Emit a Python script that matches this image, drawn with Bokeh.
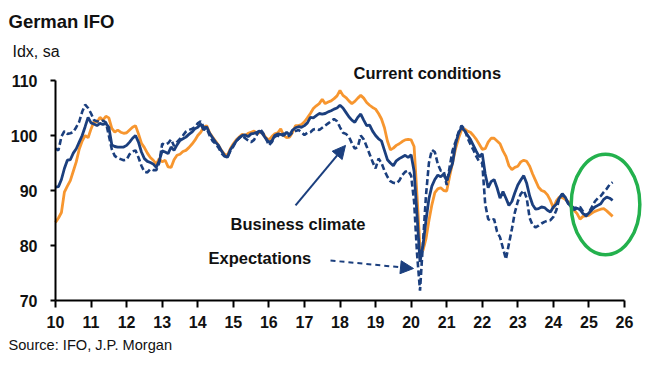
from bokeh.plotting import figure
from bokeh.models import Range1d, FixedTicker, Label, Arrow, NormalHead
from bokeh.embed import file_html
from bokeh.resources import INLINE

# ---- data (monthly, Jan 2010 .. Sep 2025), index level, sa ----
business_climate = [
    90.6, 90.7, 92.0, 94.0, 95.5, 95.6, 96.8, 97.6, 98.8, 100.0, 101.6, 103.3,   # 2010
    102.3, 102.1, 101.8, 102.2, 102.0, 102.2, 101.5, 98.3, 98.0, 97.9, 97.9, 97.9,  # 2011
    98.2, 98.8, 99.5, 100.0, 98.8, 97.0, 95.8, 95.3, 95.1, 94.8, 94.2, 95.4,       # 2012
    97.2, 97.0, 96.7, 97.9, 97.3, 98.3, 99.1, 99.4, 99.7, 100.2, 100.6, 101.2,     # 2013
    101.5, 102.1, 101.0, 101.6, 100.4, 99.6, 98.8, 98.2, 97.2, 96.4, 96.0, 97.4,   # 2014
    98.2, 99.0, 99.6, 100.0, 100.1, 99.8, 100.3, 100.4, 100.6, 100.8, 100.2, 99.4, # 2015
    98.8, 99.0, 100.0, 100.3, 100.2, 100.0, 100.6, 100.1, 101.0, 101.4, 101.6, 101.5,  # 2016
    101.8, 102.3, 103.3, 103.2, 103.6, 104.0, 103.9, 104.0, 104.3, 104.5, 104.8, 105.0,  # 2017
    105.5, 105.0, 104.2, 103.4, 102.8, 102.4, 103.3, 103.9, 102.8, 101.8, 101.9, 100.8,  # 2018
    100.0, 99.4, 99.0, 97.3, 95.6, 95.0, 94.5, 95.4, 95.8, 96.1, 96.4, 96.0,       # 2019
    96.5, 93.5, 85.5, 77.0, 80.0, 84.5, 88.5, 90.8, 92.0, 92.8, 92.5, 93.0,        # 2020
    91.8, 93.4, 95.0, 98.5, 100.4, 101.5, 100.9, 100.1, 99.3, 98.2, 97.1, 96.1,    # 2021
    96.7, 93.0, 90.5, 91.6, 92.0, 90.5, 88.6, 89.8, 88.6, 87.3, 88.0, 89.6,        # 2022
    91.0, 91.9, 92.7, 91.3, 89.0, 87.4, 86.6, 86.7, 87.0, 86.9, 86.4, 86.1,        # 2023
    87.0, 87.5, 88.6, 89.4, 88.8, 87.7, 87.0, 86.5, 86.8, 86.5, 85.8, 85.5,        # 2024
    85.9, 86.5, 87.0, 87.3, 87.6, 88.4, 88.8, 88.6, 88.2,                          # 2025
]

expectations = [
    97.6, 97.3, 99.8, 100.8, 100.3, 100.4, 100.6, 101.5, 102.5, 104.3, 105.6, 105.0,  # 2010
    104.0, 102.8, 102.6, 102.5, 102.7, 102.4, 100.0, 97.5, 96.3, 95.9, 95.7, 95.5,   # 2011
    95.6, 96.6, 97.1, 97.3, 96.0, 94.5, 93.4, 93.3, 93.9, 93.7, 93.7, 95.0,         # 2012
    98.5, 98.3, 98.6, 99.3, 98.1, 98.8, 99.4, 100.0, 100.7, 101.0, 101.2, 101.5,    # 2013
    102.2, 102.6, 101.5, 101.3, 100.0, 99.0, 98.5, 97.8, 96.8, 96.2, 96.0, 97.2,    # 2014
    98.0, 99.0, 99.5, 100.0, 99.5, 99.1, 98.8, 99.2, 100.2, 101.2, 100.5, 99.5,     # 2015
    98.2, 98.8, 99.8, 100.0, 99.7, 100.4, 99.8, 100.0, 100.6, 100.8, 101.0, 100.6,  # 2016
    100.1, 100.5, 100.6, 101.1, 101.2, 101.0, 101.4, 101.8, 102.2, 102.6, 103.0, 102.6,  # 2017
    101.5, 100.5, 100.3, 99.8, 98.6, 97.6, 97.9, 100.0, 99.3, 98.0, 96.6, 95.2,     # 2018
    94.0, 95.8, 95.0, 93.6, 92.5, 91.7, 91.4, 91.3, 91.8, 92.8, 93.4, 93.6,         # 2019
    92.7, 88.0, 78.5, 71.8, 80.5, 89.0, 95.0, 97.4, 97.0, 94.8, 93.6, 93.5,         # 2020
    91.0, 94.3, 97.3, 98.9, 100.6, 101.8, 101.2, 99.6, 98.4, 97.4, 96.2, 95.2,      # 2021
    95.0, 87.5, 84.8, 84.5, 84.8, 82.5, 81.5, 79.5, 77.5, 80.3, 83.0, 86.0,         # 2022
    88.0, 89.4, 90.0, 88.6, 85.0, 83.7, 83.3, 83.6, 84.0, 84.3, 84.5, 84.6,         # 2023
    85.2, 86.4, 88.6, 89.3, 88.6, 87.6, 87.2, 86.8, 86.9, 87.0, 86.2, 85.3,         # 2024
    86.0, 87.0, 88.0, 88.6, 89.0, 89.7, 90.3, 91.1, 91.5,                           # 2025
]

current_conditions = [
    84.2, 85.0, 86.0, 89.7, 90.8, 91.8, 93.5, 95.2, 97.5, 99.0, 100.0, 99.6,        # 2010
    101.2, 102.6, 102.4, 103.3, 102.8, 103.5, 103.2, 101.3, 100.6, 101.0, 100.6, 100.4,  # 2011
    100.5, 101.0, 101.5, 101.8, 100.3, 98.6, 97.8, 96.8, 96.0, 95.5, 94.8, 95.8,    # 2012
    95.2, 95.5, 94.3, 94.2, 95.6, 96.4, 96.6, 97.1, 97.3, 97.8, 98.4, 99.1,         # 2013
    100.0, 100.6, 101.5, 101.8, 100.5, 99.7, 99.0, 98.2, 97.3, 96.6, 96.4, 97.6,    # 2014
    98.5, 99.2, 99.7, 100.2, 100.0, 100.4, 100.6, 100.8, 100.3, 100.6, 100.4, 99.6, # 2015
    99.2, 99.8, 100.3, 100.5, 101.2, 100.0, 99.6, 99.7, 100.6, 101.8, 101.8, 102.0, # 2016
    102.5, 103.2, 104.0, 104.9, 105.4, 105.8, 106.6, 105.8, 106.1, 106.3, 106.7, 107.2,  # 2017
    108.2, 107.3, 106.9, 106.3, 105.8, 106.2, 106.8, 107.3, 106.8, 106.0, 105.5, 105.1,  # 2018
    104.8, 104.0, 103.0, 101.4, 99.0, 97.4, 97.7, 98.2, 98.5, 98.9, 99.2, 99.3,     # 2019
    99.2, 98.0, 89.0, 79.5, 79.1, 81.2, 84.5, 87.4, 89.6, 90.3, 90.5, 90.0,         # 2020
    89.9, 92.6, 95.1, 97.6, 99.5, 101.0, 101.2, 100.8, 100.6, 100.0, 99.3, 98.4,    # 2021
    97.5, 97.6, 98.8, 99.5, 99.5, 99.0, 98.5, 97.2, 96.2, 94.5, 93.8, 94.2,         # 2022
    94.4, 95.2, 95.5, 95.3, 94.4, 93.0, 91.8, 90.6, 90.0, 89.8, 89.2, 88.2,         # 2023
    86.8, 88.1, 88.8, 88.7, 88.4, 88.0, 87.4, 86.4, 85.8, 84.8, 85.3, 85.4,         # 2024
    85.5, 85.9, 86.2, 86.4, 86.6, 86.7, 86.3, 85.8, 85.3,                           # 2025
]

start_year = 10            # axis shows two-digit years
x_ticks = list(range(10, 27))
x_tick_labels = [str(t) for t in x_ticks]
y_ticks = [70, 80, 90, 100, 110]

months = [start_year + i / 12 for i in range(len(business_climate))]

NAVY = "#1B3F7E"
ORANGE = "#F7962F"
GREEN = "#23B14D"
FONT = "Liberation Sans"
TXT = "#111111"

# whole canvas is the frame; axes are pinned inside it
W, H = 652, 362
ppx = 569 / 16.0      # pixels per year
ppy = 220 / 40.0      # pixels per index point
x0 = 10 - 55 / ppx
x1 = x0 + W / ppx
y1 = 110 + 80 / ppy
y0 = y1 - H / ppy

p = figure(
    width=W, height=H,
    x_range=Range1d(x0, x1), y_range=Range1d(y0, y1),
    output_backend="svg", toolbar_location=None,
    min_border=0,
)
p.outline_line_color = None
p.grid.grid_line_color = None
p.background_fill_color = "white"
p.border_fill_color = "white"

p.line(months, current_conditions, line_color=ORANGE, line_width=2.8)
p.line(months, business_climate, line_color=NAVY, line_width=2.8)
p.line(months, expectations, line_color=NAVY, line_width=2.6, line_dash="6 3")

for ax in (p.xaxis[0], p.yaxis[0]):
    ax.axis_line_color = "black"
    ax.axis_line_width = 2
    ax.major_tick_line_color = "black"
    ax.major_tick_line_width = 2
    ax.major_tick_in = 0
    ax.minor_tick_line_color = None
    ax.major_label_text_font = FONT
    ax.major_label_text_font_style = "bold"
    ax.major_label_text_font_size = "16px"
    ax.major_label_text_color = TXT

p.xaxis.fixed_location = 70
p.xaxis.ticker = FixedTicker(ticks=x_ticks)
p.xaxis.major_label_overrides = {t: s for t, s in zip(x_ticks, x_tick_labels)}
p.xaxis.bounds = (10, 26)
p.xaxis.major_tick_out = 7
p.xaxis.major_label_standoff = 8

p.yaxis.fixed_location = 10
p.yaxis.ticker = FixedTicker(ticks=y_ticks)
p.yaxis.bounds = (70, 110)
p.yaxis.major_tick_out = 5
p.yaxis.major_label_standoff = 13

# green highlight ellipse around latest readings
p.ellipse(x=[25.466], y=[87.45], width=[1.93], height=[18.3],
          fill_color=None, line_color=GREEN, line_width=3.5)

# annotations
def lab(text, x, y, size, bold=True):
    p.add_layout(Label(x=x, y=y, text=text, text_font=FONT, text_font_size=size,
                       text_font_style="bold" if bold else "normal",
                       text_color=TXT, text_baseline="alphabetic", text_align="left"))

lab("German IFO", 8.678, 120.8, "18.5px")
lab("Idx, sa", 8.79, 115.3, "16px", bold=False)
lab("Current conditions", 18.38, 111.3, "16.5px")
lab("Business climate", 14.921, 84.0, "16.5px")
lab("Expectations", 14.302, 77.7, "16.5px")
lab("Source: IFO, J.P. Morgan", 8.678, 62.0, "14.6px", bold=False)

p.add_layout(Arrow(end=NormalHead(size=13, fill_color=NAVY, line_color=NAVY),
                   x_start=16.75, y_start=87.3, x_end=18.155, y_end=98.2,
                   line_color=NAVY, line_width=2))
p.add_layout(Arrow(end=NormalHead(size=13, fill_color=NAVY, line_color=NAVY),
                   x_start=17.733, y_start=77.27, x_end=20.067, y_end=75.82,
                   line_color=NAVY, line_width=2, line_dash="5 4"))

open("out.html", "w").write(file_html(p, INLINE))
